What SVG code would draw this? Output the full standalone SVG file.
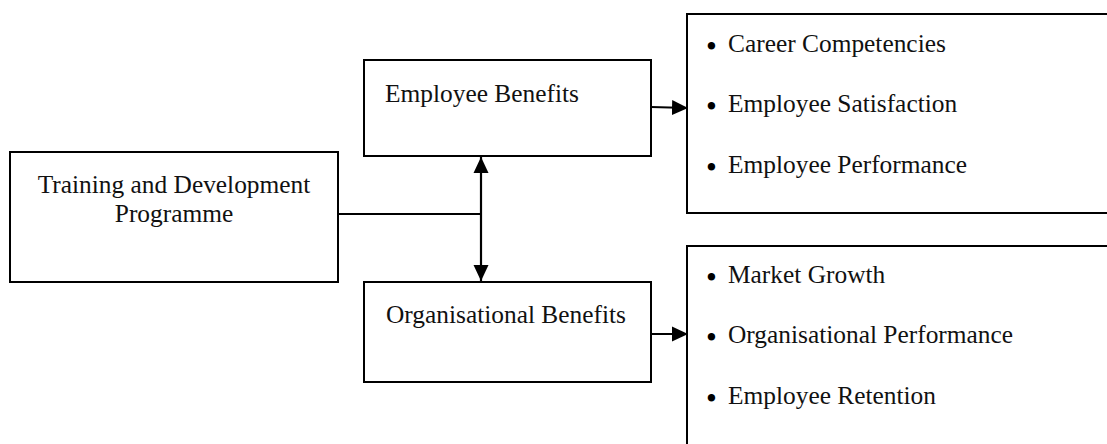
<svg xmlns="http://www.w3.org/2000/svg" width="1107" height="444" viewBox="0 0 1107 444">
<style>
.box{fill:#fff;stroke:#000;stroke-width:2}
.t{font-family:"Liberation Serif","Times New Roman",serif;font-size:25.4px;fill:#111}
.b{font-family:"Liberation Serif","Times New Roman",serif;font-size:31px;fill:#000}
.c{stroke:#000;stroke-width:2.2;fill:none}
</style>
<defs>
<marker id="ah" markerUnits="userSpaceOnUse" markerWidth="16" markerHeight="16" refX="16" refY="8" orient="auto-start-reverse" viewBox="0 0 16 16">
<path d="M0,0.5 L16,8 L0,15.5 Z" fill="#000"/>
</marker>
</defs>
<rect width="1107" height="444" fill="#fff"/>
<g id="training">
<rect class="box" x="10" y="152" width="328" height="130"/>
<text class="t" x="174" y="193" text-anchor="middle">Training and Development</text>
<text class="t" x="174" y="222" text-anchor="middle">Programme</text>
</g>
<g id="employee-benefits">
<rect class="box" x="364" y="60" width="287" height="96"/>
<text class="t" x="385" y="102">Employee Benefits</text>
</g>
<g id="organisational-benefits">
<rect class="box" x="364" y="282" width="287" height="100"/>
<text class="t" x="386" y="323">Organisational Benefits</text>
</g>
<g id="employee-outcomes">
<rect class="box" x="687" y="14" width="440" height="199"/>
<text class="b" x="706" y="57">•</text><text class="t" x="728" y="52">Career Competencies</text>
<text class="b" x="706" y="117">•</text><text class="t" x="728" y="112">Employee Satisfaction</text>
<text class="b" x="706" y="178">•</text><text class="t" x="728" y="173">Employee Performance</text>
</g>
<g id="organisational-outcomes">
<rect class="box" x="687" y="246" width="440" height="220"/>
<text class="b" x="706" y="288">•</text><text class="t" x="728" y="283">Market Growth</text>
<text class="b" x="706" y="348">•</text><text class="t" x="728" y="343">Organisational Performance</text>
<text class="b" x="706" y="409">•</text><text class="t" x="728" y="404">Employee Retention</text>
</g>
<g id="connectors">
<line class="c" x1="338" y1="214" x2="481" y2="214"/>
<line class="c" x1="481" y1="157" x2="481" y2="281" marker-start="url(#ah)" marker-end="url(#ah)"/>
<line class="c" x1="651" y1="107" x2="688" y2="108" marker-end="url(#ah)"/>
<line class="c" x1="651" y1="334" x2="688" y2="334" marker-end="url(#ah)"/>
</g>
</svg>
